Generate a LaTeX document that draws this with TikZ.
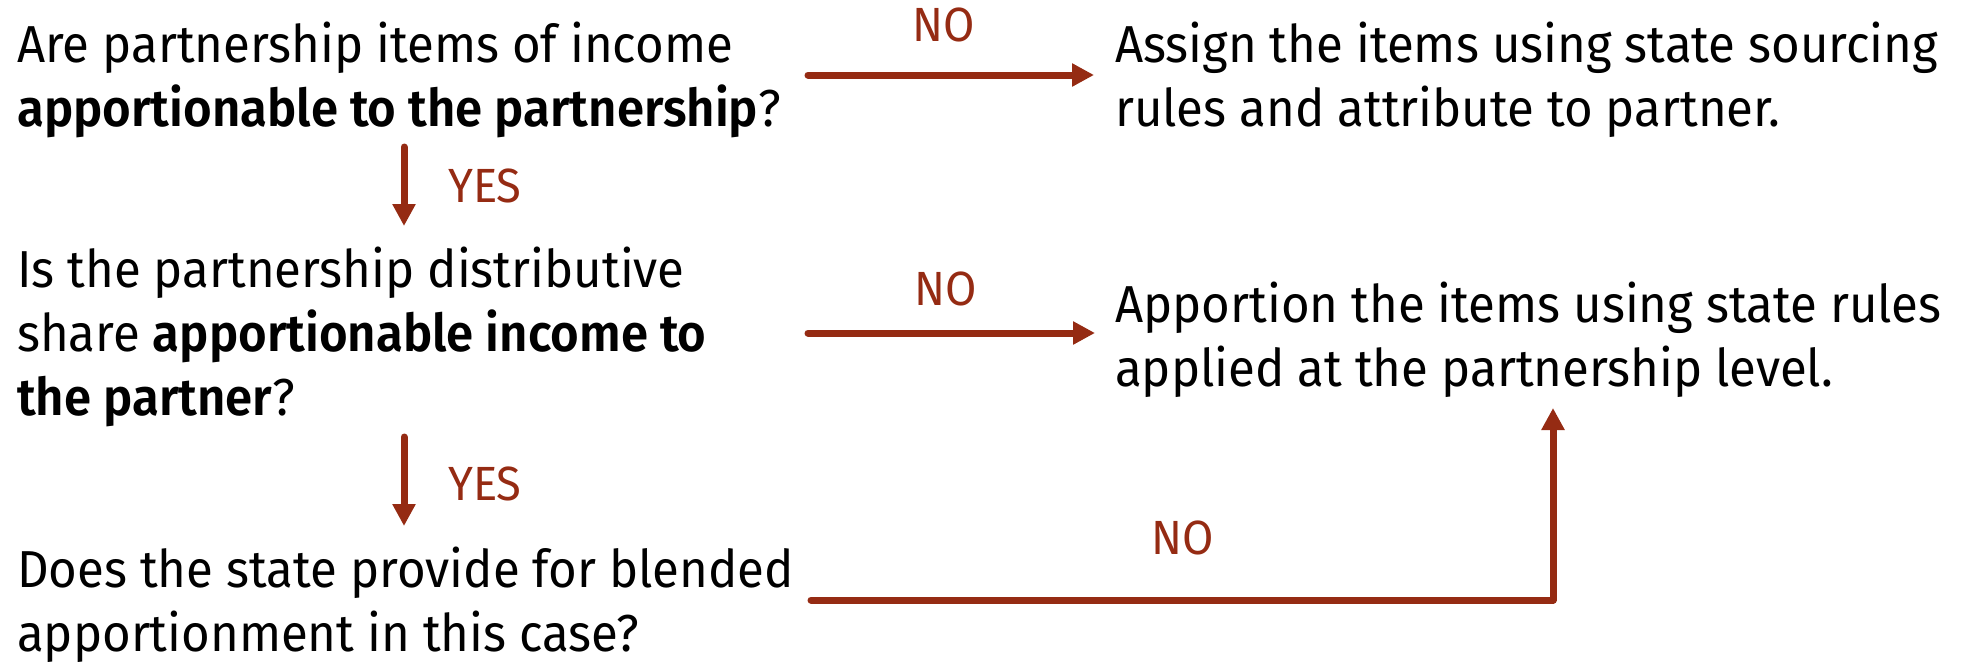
\documentclass[tikz,border=0pt]{standalone}
\usepackage{fontspec}
\setmainfont{Fira Sans}[FakeStretch=0.945, BoldFont={Fira Sans SemiBold}]
\usetikzlibrary{arrows.meta}
\definecolor{arrowred}{RGB}{149,43,19}
\tikzset{
  body/.style={anchor=base west, inner sep=0pt, font=\fontsize{52}{64}\selectfont},
  answer/.style={text=arrowred, inner sep=0pt, font=\fontsize{48}{48}\selectfont},
  flow/.style={draw=arrowred, line width=7pt, line cap=round, line join=round,
    -{Triangle[length=22pt,width=22pt]}},
}
\newcommand{\textlines}[1]{\parbox[t]{900pt}{\raggedright #1}}
\begin{document}
\begin{tikzpicture}[x=1pt,y=-1pt]
\useasboundingbox (0,0) rectangle (1964,661);

% questions on the left
\node[body] (q1) at (17,63) {\textlines{Are partnership items of income\\\textbf{apportionable to the partnership}?}};
\node[body] (q2) at (17,287) {\textlines{Is the partnership distributive\\share \textbf{apportionable income to}\\\textbf{the partner}?}};
\node[body] (q3) at (17,587) {\textlines{Does the state provide for blended\\apportionment in this case?}};

% outcomes on the right
\node[body] (r1) at (1115,63) {\textlines{Assign the items using state sourcing\\rules and attribute to partner.}};
\node[body] (r2) at (1115,322) {\textlines{Apportion the items using state rules\\applied at the partnership level.}};

% answer labels
\node[answer, anchor=base] (no1) at (944,42) {NO};
\node[answer, anchor=base] (no2) at (946,305) {NO};
\node[answer, anchor=base] (no3) at (1183,554) {NO};
\node[answer, anchor=base west] (yes1) at (448,202) {YES};
\node[answer, anchor=base west] (yes2) at (448,500) {YES};

% connector end points
\coordinate (a1s) at (808,75);   \coordinate (a1e) at (1094,75);
\coordinate (a2s) at (808,333);  \coordinate (a2e) at (1095,333);
\coordinate (y1s) at (404,147);  \coordinate (y1e) at (404,226);
\coordinate (y2s) at (404,437);  \coordinate (y2e) at (404,526);
\coordinate (a3s) at (811,600);  \coordinate (a3c) at (1553,600);
\coordinate (a3e) at (1553,408);

\draw[flow] (a1s) -- (a1e);
\draw[flow] (a2s) -- (a2e);
\draw[flow] (y1s) -- (y1e);
\draw[flow] (y2s) -- (y2e);
\draw[flow] (a3s) -- (a3c) -- (a3e);
\end{tikzpicture}
\end{document}
